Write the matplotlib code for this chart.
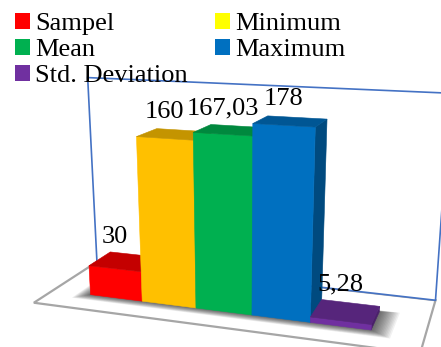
import numpy as np
import matplotlib
matplotlib.use('Agg')
import matplotlib.pyplot as plt
from matplotlib.patches import Polygon, Patch
from matplotlib.colors import to_rgb

plt.rcParams['font.family'] = 'serif'
plt.rcParams['font.serif'] = ['Liberation Serif', 'DejaVu Serif']

# ---- data ----
categories = ['Sampel', 'Minimum', 'Mean', 'Maximum', 'Std. Deviation']
values = [30, 160, 167.03, 178, 5.28]
value_labels = ['30', '160', '167,03', '178', '5,28']
bar_colors = ['#FF0000', '#FFC000', '#00B050', '#0070C0', '#7030A0']
legend_colors = ['#FF0000', '#FFFF00', '#00B050', '#0070C0', '#7030A0']
value_max = 200

# ---- 3-D view: world (slot, depth, value) -> canvas pixels ----
CAMERA = np.array([[48.91441, 26.69950, -0.08169418, 90.52602],
                   [0.6777662, -0.8535367, -1.055331, 294.6389],
                   [-0.01941102, 0.05066245, -3.413452e-4, 1.0]])
FLOOR_X = (-0.74, 5.85)
FLOOR_Y = (-0.8, 2.02)
BAR_DEPTH = 1.0

W_PX, H_PX = 441, 347
FONT_SIZE = 19


def project(pts):
    pts = np.asarray(pts, float)
    h = CAMERA @ np.c_[pts, np.ones(len(pts))].T
    return np.c_[h[0] / h[2], h[1] / h[2]]


def shade(color, k):
    r, g, b = to_rgb(color)
    return (r * k, g * k, b * k)


fig = plt.figure(figsize=(W_PX / 100, H_PX / 100), dpi=100)
ax = fig.add_axes([0, 0, 1, 1])
ax.set_xlim(0, W_PX)
ax.set_ylim(H_PX, 0)
ax.axis('off')

x0, x1 = FLOOR_X
y0, yb = FLOOR_Y

# floor
floor = project([(x0, y0, 0), (x1, y0, 0), (x1, yb, 0), (x0, yb, 0)])
ax.add_patch(Polygon(floor, closed=True, facecolor='white',
                     edgecolor='#A6A6A6', lw=1.6, zorder=1))

# back wall
wall = project([(x0, yb, 0), (x1, yb, 0), (x1, yb, value_max), (x0, yb, value_max)])
ax.add_patch(Polygon(wall, closed=True, facecolor='white',
                     edgecolor='#4472C4', lw=1.2, zorder=2))

# soft shadow under the bars
n = len(values)
for k in range(14):
    e = 0.02 + 0.017 * k
    pts = project([(-e, -e * 1.2, 0), (n + e * 1.4, -e * 1.2, 0),
                   (n + e * 1.4, BAR_DEPTH + e * 0.3, 0), (-e, BAR_DEPTH + e * 0.3, 0)])
    ax.add_patch(Polygon(pts, closed=True, facecolor='black', edgecolor='none',
                         alpha=0.055, zorder=3))

# bars, drawn left to right so nearer bars cover farther side faces
for i, (v, c) in enumerate(zip(values, bar_colors)):
    xa, xb = i, i + 1
    front = project([(xa, 0, 0), (xb, 0, 0), (xb, 0, v), (xa, 0, v)])
    top = project([(xa, 0, v), (xb, 0, v), (xb, BAR_DEPTH, v), (xa, BAR_DEPTH, v)])
    side = project([(xb, 0, 0), (xb, BAR_DEPTH, 0), (xb, BAR_DEPTH, v), (xb, 0, v)])
    z = 4 + i
    for poly, col in ((side, shade(c, 0.66)), (front, to_rgb(c)), (top, shade(c, 0.77))):
        ax.add_patch(Polygon(poly, closed=True, facecolor=col, edgecolor=col,
                             lw=0.4, zorder=z))

# value labels above each bar
for i, (v, lab) in enumerate(zip(values, value_labels)):
    fx = project([(i + 0.5, 0, v)])[0, 0]
    by = project([(i + 0.5, BAR_DEPTH, v)])[0, 1]
    ax.text(fx, by - 12, lab, ha='center', va='baseline',
            fontsize=FONT_SIZE, color='black', zorder=20)

# legend, filled row by row in two columns
order = [0, 2, 4, 1, 3]
handles = [Patch(facecolor=legend_colors[j], edgecolor='none') for j in order]
labels = [categories[j] for j in order]
fig.legend(handles, labels, ncol=2, loc='upper left',
           bbox_to_anchor=(15 / W_PX, 1 - 13 / H_PX), frameon=False,
           prop={'size': FONT_SIZE},
           handlelength=0.55, handleheight=0.55, handletextpad=0.2,
           labelspacing=0.14, columnspacing=1.05, borderpad=0, borderaxespad=0)

fig.savefig('out.png', dpi=100)
